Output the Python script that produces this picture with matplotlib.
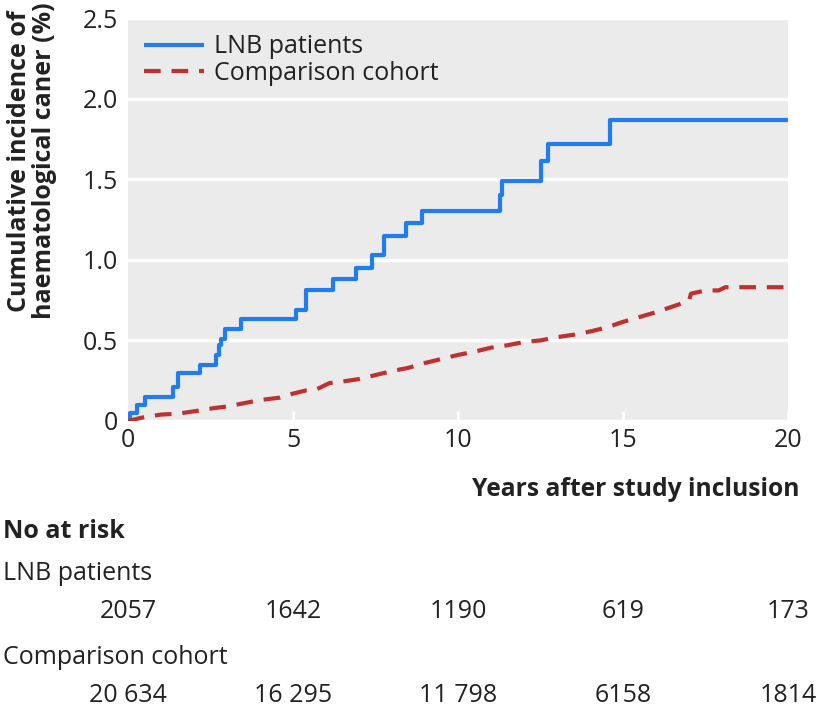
import numpy as np
import matplotlib
matplotlib.use("Agg")
import matplotlib.pyplot as plt
from matplotlib.transforms import blended_transform_factory

plt.rcParams['font.family'] = ['Open Sans', 'DejaVu Sans']

# LNB patients (step curve)
lnb_years = [0, 0.06, 0.26, 0.51, 1.37, 1.52, 2.18, 2.66, 2.76, 2.83, 2.93, 3.41,
             5.08, 5.39, 6.21, 6.92, 7.40, 7.75, 8.43, 8.91, 11.26, 11.34, 12.52,
             12.72, 14.60, 20]
lnb_cuminc = [0, 0.05, 0.10, 0.15, 0.21, 0.30, 0.35, 0.41, 0.47, 0.51, 0.57, 0.63,
              0.69, 0.81, 0.88, 0.95, 1.03, 1.15, 1.23, 1.30, 1.40, 1.49, 1.61,
              1.72, 1.87, 1.87]

# Comparison cohort
comp_years = [0, 0.4, 1.0, 1.5, 2.0, 2.6, 3.0, 3.5, 4.0, 4.6, 5.0, 5.4, 5.7, 6.1,
              6.5, 7.0, 7.5, 8.0, 8.5, 9.0, 9.5, 10.0, 10.5, 11.0, 11.5, 12.0,
              12.5, 13.0, 13.5, 14.0, 14.5, 15.0, 15.5, 16.0, 16.5, 17.0, 17.06,
              17.5, 17.9, 18.1, 20]
comp_cuminc = [0, 0.02, 0.04, 0.045, 0.06, 0.08, 0.09, 0.11, 0.13, 0.145, 0.17,
               0.19, 0.195, 0.235, 0.245, 0.26, 0.285, 0.31, 0.33, 0.36, 0.385,
               0.41, 0.43, 0.455, 0.47, 0.49, 0.50, 0.52, 0.535, 0.555, 0.58,
               0.615, 0.645, 0.675, 0.71, 0.745, 0.79, 0.81, 0.81, 0.83, 0.83]

# Tabel jumlah at risk
risk_years = [0, 5, 10, 15, 20]
risk_lnb = ['2057', '1642', '1190', '619', '173']
risk_comp = ['20 634', '16 295', '11 798', '6158', '1814']

y_ticks = [0, 0.5, 1.0, 1.5, 2.0, 2.5]
y_ticklabels = ['0', '0.5', '1.0', '1.5', '2.0', '2.5']
x_ticks = [0, 5, 10, 15, 20]

W, H = 820, 712
fig = plt.figure(figsize=(W / 100, H / 100), dpi=100)
ax = fig.add_axes([128 / W, 1 - 421 / H, (788 - 128) / W, (421 - 18) / H])

txt = '#222222'
fs = 18
ax.set_facecolor('#ebebeb')
for s in ax.spines.values():
    s.set_visible(False)

ax.plot(lnb_years, lnb_cuminc, drawstyle='steps-post', color='#1f7cf2', lw=3,
        label='LNB patients', solid_capstyle='butt')
ax.plot(comp_years, comp_cuminc, color='#c1302f', lw=3, dashes=(4, 2.6),
        label='Comparison cohort')

ax.set_xlim(0, 20)
ax.set_ylim(0, 2.5)
ax.set_yticks(y_ticks)
ax.set_yticklabels(y_ticklabels)
ax.set_xticks(x_ticks)
ax.grid(axis='y', color='white', lw=2.5)
ax.set_axisbelow(True)
ax.tick_params(axis='x', direction='in', length=7, width=2, color='white',
               labelsize=fs, labelcolor=txt, pad=5)
ax.tick_params(axis='y', length=0, labelsize=fs, labelcolor=txt, pad=7)

leg = ax.legend(loc='upper left', frameon=False, fontsize=fs, handlelength=2.4,
                handletextpad=0.4, labelspacing=0.05, borderaxespad=0.25,
                labelcolor=txt)

fig.text(32 / W, 1 - 161 / H,
         'Cumulative incidence of\nhaematological caner (%)',
         rotation=90, ha='center', va='center', fontsize=fs, fontweight='bold',
         color=txt, linespacing=1.05)
fig.text(800 / W, 1 - 490 / H, 'Years after study inclusion', ha='right',
         va='center', fontsize=17.7, fontweight='bold', color=txt)

# Tabel at risk di bawah grafik
tr = blended_transform_factory(ax.transData, fig.transFigure)
fig.text(3 / W, 1 - 532 / H, 'No at risk', ha='left', va='center', fontsize=fs,
         fontweight='bold', color=txt)
fig.text(3 / W, 1 - 574 / H, 'LNB patients', ha='left', va='center',
         fontsize=fs, color=txt)
fig.text(3 / W, 1 - 658 / H, 'Comparison cohort', ha='left', va='center',
         fontsize=fs, color=txt)
for x, a, b in zip(risk_years, risk_lnb, risk_comp):
    ax.text(x, 1 - 612 / H, a, transform=tr, ha='center', va='center',
            fontsize=fs, color=txt)
    ax.text(x, 1 - 695 / H, b, transform=tr, ha='center', va='center',
            fontsize=fs, color=txt)

fig.savefig('out.png', dpi=100)
